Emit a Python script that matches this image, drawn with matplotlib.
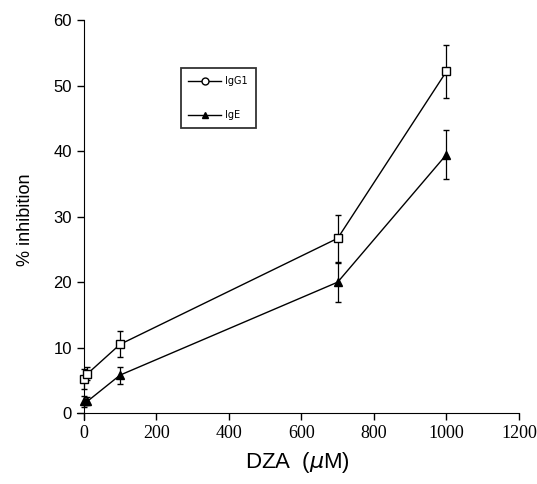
import matplotlib
matplotlib.use("Agg")
import matplotlib.pyplot as plt
from matplotlib.lines import Line2D

dza = [0, 10, 100, 700, 1000]
igg1 = [5.2, 6.0, 10.5, 26.7, 52.2]
igg1_err = [1.5, 1.0, 2.0, 3.6, 4.0]
ige = [1.8, 1.8, 5.8, 20.0, 39.5]
ige_err = [0.8, 0.6, 1.3, 3.0, 3.8]

x_ticks = [0, 200, 400, 600, 800, 1000, 1200]
y_ticks = [0, 10, 20, 30, 40, 50, 60]

fig = plt.figure(figsize=(5.37, 4.84), dpi=100)
ax = fig.add_axes([0.1425, 0.133, 0.824, 0.825])

ax.errorbar(dza, igg1, yerr=igg1_err, color="black", lw=1.0, marker="s",
            ms=6, mfc="white", mec="black", mew=1.0, capsize=2, elinewidth=0.9,
            zorder=3)
ax.errorbar(dza, ige, yerr=ige_err, color="black", lw=1.0, marker="^",
            ms=6, mfc="black", mec="black", capsize=2, elinewidth=0.9,
            zorder=3)

ax.set_xlim(-20, 1200)
ax.set_ylim(-1, 60)
ax.spines["left"].set_position(("data", 0))
ax.spines["bottom"].set_position(("data", 0))
ax.spines["top"].set_visible(False)
ax.spines["right"].set_visible(False)

ax.set_xticks(x_ticks)
ax.set_xticklabels([str(v) for v in x_ticks], fontfamily="Liberation Serif", fontsize=13)
ax.set_yticks(y_ticks)
ax.set_yticklabels([str(v) for v in y_ticks], fontfamily="Liberation Sans", fontsize=12)
ax.tick_params(direction="out", length=5, width=1)

ax.set_xlabel("DZA  ($\\mu$M)", fontfamily="Liberation Sans", fontsize=16, labelpad=6)
ax.set_ylabel("% inhibition", fontfamily="Liberation Sans", fontsize=13, labelpad=14)

handles = [
    Line2D([], [], color="black", lw=1.0, marker="o", ms=5, mfc="white", mec="black"),
    Line2D([], [], color="black", lw=1.0, marker="^", ms=5, mfc="black", mec="black"),
]
leg = ax.legend(handles, ["IgG1", "IgE"], loc="upper left", bbox_to_anchor=(0.235, 0.88),
                frameon=True, fancybox=False, edgecolor="black", fontsize=7,
                labelspacing=2.5, handlelength=3.4, borderpad=0.8, handletextpad=0.4,
                borderaxespad=0)
leg.get_frame().set_linewidth(1.3)

fig.savefig("out.png", dpi=100)
